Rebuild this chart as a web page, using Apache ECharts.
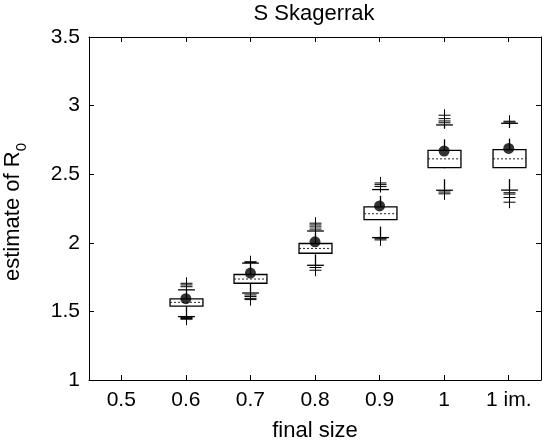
<!DOCTYPE html>
<html>
<head>
<meta charset="utf-8">
<script src="https://cdn.jsdelivr.net/npm/echarts@6/dist/echarts.min.js"></script>
<style>
html,body{margin:0;padding:0;background:#fff;}
#chart{width:547px;height:447px;}
</style>
</head>
<body>
<div id="chart"></div>
<script>
const categories = ['0.5', '0.6', '0.7', '0.8', '0.9', '1', '1 im.'];
const boxCategories = ['0.6', '0.7', '0.8', '0.9', '1', '1 im.'];
const whiskerLow = [1.462, 1.634, 1.836, 2.038, 2.383, 2.384];
const q1 = [1.538, 1.705, 1.924, 2.169, 2.548, 2.548];
const median = [1.566, 1.736, 1.959, 2.212, 2.612, 2.612];
const q3 = [1.591, 1.769, 1.995, 2.262, 2.674, 2.679];
const whiskerHigh = [1.657, 1.852, 2.086, 2.388, 2.859, 2.871];
const means = [1.593, 1.779, 2.007, 2.269, 2.669, 2.688];
const outliersHigh = [
  [1.68, 1.693, 1.705],
  [1.857, 1.862],
  [2.1, 2.116, 2.13, 2.143],
  [2.41, 2.424, 2.436],
  [2.875, 2.888, 2.905, 2.93],
  [2.88, 2.886]
];
const outliersLow = [
  [1.455, 1.448, 1.443],
  [1.62, 1.609, 1.595, 1.586],
  [1.82, 1.8],
  [2.03, 2.021],
  [2.37, 2.357],
  [2.365, 2.355, 2.33, 2.296]
];
const yMin = 1, yMax = 3.5, yStep = 0.5;
const titleText = 'S Skagerrak';
const xName = 'final size';

const boxData = boxCategories.map((c, i) => [categories.indexOf(c), whiskerLow[i], q1[i], median[i], q3[i], whiskerHigh[i]]);
const meanData = boxCategories.map((c, i) => [categories.indexOf(c), means[i]]);
const outlierData = [];
boxCategories.forEach((c, i) => {
  const ci = categories.indexOf(c);
  outliersHigh[i].forEach(v => outlierData.push([ci, v]));
  outliersLow[i].forEach(v => outlierData.push([ci, v]));
});

const FONT = 'Liberation Sans, Arial, Helvetica, sans-serif';
const chart = echarts.init(document.getElementById('chart'), null, {renderer: 'canvas'});

function renderBox(params, api) {
  const x = api.value(0);
  const pLo = api.coord([x, api.value(1)]);
  const pQ1 = api.coord([x, api.value(2)]);
  const pMed = api.coord([x, api.value(3)]);
  const pQ3 = api.coord([x, api.value(4)]);
  const pHi = api.coord([x, api.value(5)]);
  const band = api.size([1, 0])[0];
  const hw = band * 0.255;
  const cw = band * 0.13;
  const cx = Math.round(pQ1[0]) + 0.5;
  const stroke = '#000';
  return {
    type: 'group',
    children: [
      {type: 'line', shape: {x1: cx, y1: pQ3[1], x2: cx, y2: pHi[1]}, style: {stroke, lineWidth: 1.3, lineDash: [11, 11]}},
      {type: 'line', shape: {x1: cx, y1: pLo[1], x2: cx, y2: pQ1[1]}, style: {stroke, lineWidth: 1.3, lineDash: [11, 11]}},
      {type: 'line', shape: {x1: cx - cw, y1: pHi[1], x2: cx + cw, y2: pHi[1]}, style: {stroke, lineWidth: 1.3}},
      {type: 'line', shape: {x1: cx - cw, y1: pLo[1], x2: cx + cw, y2: pLo[1]}, style: {stroke, lineWidth: 1.3}},
      {type: 'rect', shape: {x: cx - hw, y: pQ3[1], width: 2 * hw, height: pQ1[1] - pQ3[1]}, style: {fill: '#fff', stroke, lineWidth: 1.3}},
      {type: 'line', shape: {x1: cx - hw, y1: pMed[1], x2: cx + hw, y2: pMed[1]}, style: {stroke: '#222', lineWidth: 1, lineDash: [2, 2]}}
    ]
  };
}

function renderPlus(params, api) {
  const p = api.coord([api.value(0), api.value(1)]);
  const cx = Math.round(p[0]) + 0.5;
  const s = 6;
  return {
    type: 'group',
    children: [
      {type: 'line', shape: {x1: cx - s, y1: p[1], x2: cx + s, y2: p[1]}, style: {stroke: '#000', lineWidth: 1}},
      {type: 'line', shape: {x1: cx, y1: p[1] - s, x2: cx, y2: p[1] + s}, style: {stroke: '#000', lineWidth: 1}}
    ]
  };
}

const axisLineStyle = {color: '#000', width: 1};
const option = {
  backgroundColor: '#fff',
  animation: false,
  grid: {left: 89, right: 6, top: 37, bottom: 60},
  xAxis: [
    {
      type: 'category', data: categories, position: 'bottom',
      boundaryGap: true,
      name: xName, nameLocation: 'middle', nameGap: 40,
      nameTextStyle: {color: '#000', fontSize: 22, fontFamily: FONT},
      axisLine: {show: true, lineStyle: axisLineStyle},
      axisTick: {show: true, inside: true, length: 5, alignWithLabel: true, lineStyle: axisLineStyle},
      axisLabel: {color: '#000', fontSize: 21, fontFamily: FONT, margin: 10},
      splitLine: {show: false}
    },
    {
      type: 'category', data: categories, position: 'top',
      boundaryGap: true,
      axisLine: {show: true, lineStyle: axisLineStyle},
      axisTick: {show: true, inside: true, length: 5, alignWithLabel: true, lineStyle: axisLineStyle},
      axisLabel: {show: false},
      splitLine: {show: false}
    }
  ],
  yAxis: [
    {
      type: 'value', min: yMin, max: yMax, interval: yStep, position: 'left',
      axisLine: {show: true, lineStyle: axisLineStyle},
      axisTick: {show: true, inside: true, length: 5, lineStyle: axisLineStyle},
      axisLabel: {color: '#000', fontSize: 21, fontFamily: FONT, margin: 9},
      splitLine: {show: false}
    },
    {
      type: 'value', min: yMin, max: yMax, interval: yStep, position: 'right',
      axisLine: {show: true, lineStyle: axisLineStyle},
      axisTick: {show: true, inside: true, length: 5, lineStyle: axisLineStyle},
      axisLabel: {show: false},
      splitLine: {show: false}
    }
  ],
  graphic: [
    {
      type: 'text', x: 314, y: 14,
      style: {text: titleText, fill: '#000', font: '22px ' + FONT, textAlign: 'center', textVerticalAlign: 'middle'}
    },
    {
      type: 'text', rotation: Math.PI / 2, x: 2, y: 212,
      style: {
        text: '{a|estimate of R}{b|0}',
        fill: '#000', textAlign: 'center', textVerticalAlign: 'top',
        rich: {
          a: {fontSize: 22, fontFamily: FONT, color: '#000', verticalAlign: 'bottom'},
          b: {fontSize: 15, fontFamily: FONT, color: '#000', verticalAlign: 'bottom', padding: [0, 0, -5, 0]}
        }
      }
    }
  ],
  series: [
    {
      type: 'custom', name: 'box', xAxisIndex: 0, yAxisIndex: 0,
      renderItem: renderBox,
      encode: {x: 0, y: [1, 2, 3, 4, 5]},
      data: boxData, z: 2
    },
    {
      type: 'custom', name: 'outliers', xAxisIndex: 0, yAxisIndex: 0,
      renderItem: renderPlus,
      encode: {x: 0, y: 1},
      data: outlierData, z: 3
    },
    {
      type: 'scatter', name: 'mean', xAxisIndex: 0, yAxisIndex: 0,
      symbol: 'circle', symbolSize: 11,
      itemStyle: {color: '#000'},
      data: meanData, z: 4
    }
  ]
};
chart.setOption(option);
</script>
</body>
</html>
